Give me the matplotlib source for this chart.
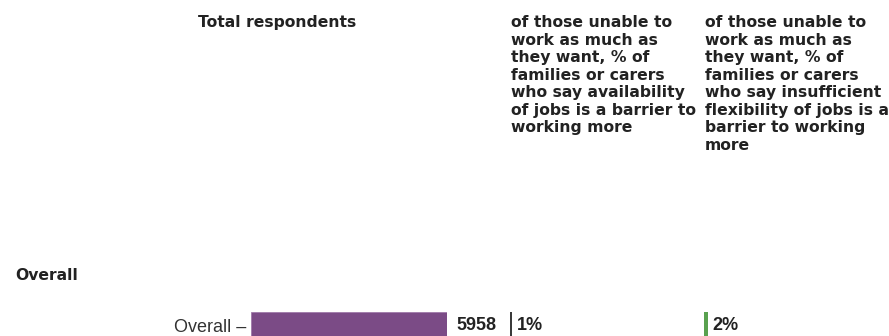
import matplotlib
matplotlib.use("Agg")
import matplotlib.pyplot as plt

# data
categories = ["Overall"]
respondents = [5958]
availability_pct = [1]
flexibility_pct = [2]

headers = [
    "Total respondents",
    "of those unable to\nwork as much as\nthey want, % of\nfamilies or carers\nwho say availability\nof jobs is a barrier to\nworking more",
    "of those unable to\nwork as much as\nthey want, % of\nfamilies or carers\nwho say insufficient\nflexibility of jobs is a\nbarrier to working\nmore",
]
group_label = "Overall"

W, H = 889, 336
fig = plt.figure(figsize=(W / 100, H / 100), dpi=100)

# no narrow face installed, so plain Liberation Sans at a smaller size
narrow = ["Liberation Sans", "DejaVu Sans"]


def px_axes(x0, width, y_top, height):
    # pixel box (from top-left) -> figure fraction
    return fig.add_axes([x0 / W, 1 - (y_top + height) / H, width / W, height / H])


bar_top = 312
bar_h = 26

ax1 = px_axes(251, 196, bar_top, bar_h)
ax2 = px_axes(510, 195, bar_top, bar_h)
ax3 = px_axes(704, 195, bar_top, bar_h)

ax1.barh(categories, respondents, height=1.0, color="#7b4b86", edgecolor="#a07aaa", linewidth=0.6)
ax1.set_xlim(0, max(respondents))
ax2.barh(categories, availability_pct, height=1.0, color="#3a3a3a")
ax2.set_xlim(0, 100)
ax3.barh(categories, flexibility_pct, height=1.0, color="#59a14f")
ax3.set_xlim(0, 100)

for ax in (ax1, ax2, ax3):
    ax.set_ylim(-0.5, 0.5)
    for s in ax.spines.values():
        s.set_visible(False)
    ax.set_xticks([])
    ax.patch.set_alpha(0)

ax1.set_yticks([0])
ax1.set_yticklabels([c + " \u2013" for c in categories], family=narrow, fontsize=13, color="#333333")
ax1.tick_params(axis="y", length=0, pad=3)
ax2.set_yticks([])
ax3.set_yticks([])

lab = dict(va="center", ha="left", family=narrow, fontweight="bold",
           fontsize=13, color="#222222", annotation_clip=False)
for i, v in enumerate(respondents):
    ax1.annotate(str(v), (v, i), xytext=(7, 0), textcoords="offset points", **lab)
for i, v in enumerate(availability_pct):
    ax2.annotate("%d%%" % v, (v, i), xytext=(3.5, 0), textcoords="offset points", **lab)
for i, v in enumerate(flexibility_pct):
    ax3.annotate("%d%%" % v, (v, i), xytext=(3.5, 0), textcoords="offset points", **lab)

# column headers
hx = [198, 511, 705]
for x, t in zip(hx, headers):
    fig.text(x / W, 1 - 15 / H, t, ha="left", va="top", fontsize=11.25,
             fontweight="bold", color="#222222", linespacing=1.21)

fig.text(15 / W, 1 - 280 / H, group_label, ha="left", va="baseline",
         fontsize=11.25, fontweight="bold", color="#222222")

fig.savefig("out.png", dpi=100)
